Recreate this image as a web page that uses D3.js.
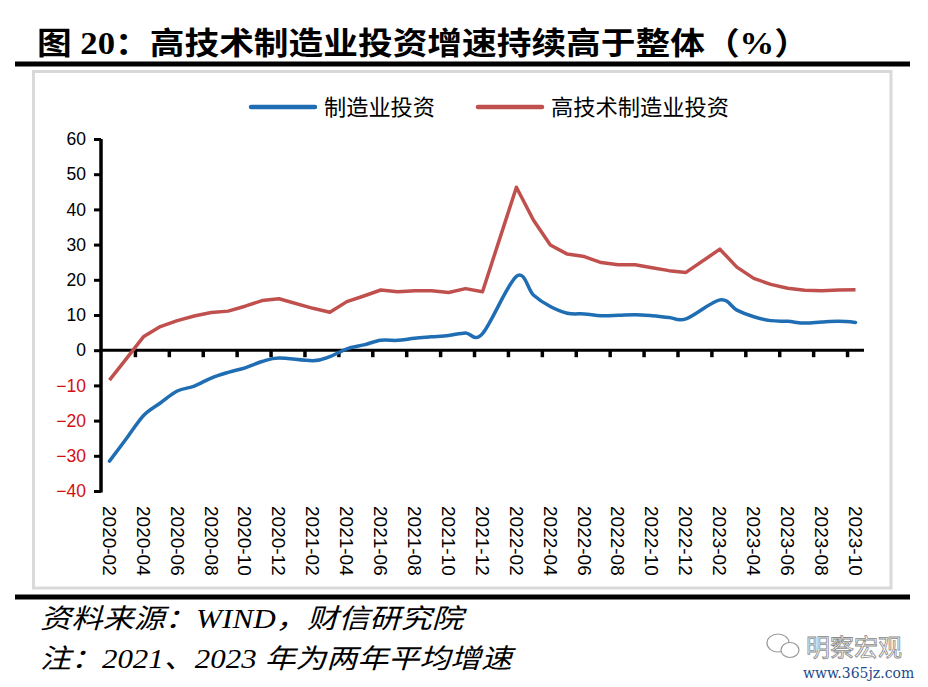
<!DOCTYPE html>
<html>
<head>
<meta charset="UTF-8">
<title>高技术制造业投资增速持续高于整体</title>
<script src="https://cdn.jsdelivr.net/npm/d3@7"></script>
<style>
  body { margin: 0; background: #fff; }
</style>
</head>
<body>
<svg id="chart" width="928" height="687"></svg>
<script>
// monthly data (no January: Jan-Feb are reported together)
var months = [
  "2020-02","2020-03","2020-04","2020-05","2020-06","2020-07","2020-08","2020-09","2020-10","2020-11","2020-12",
  "2021-02","2021-03","2021-04","2021-05","2021-06","2021-07","2021-08","2021-09","2021-10","2021-11","2021-12",
  "2022-02","2022-03","2022-04","2022-05","2022-06","2022-07","2022-08","2022-09","2022-10","2022-11","2022-12",
  "2023-02","2023-03","2023-04","2023-05","2023-06","2023-07","2023-08","2023-09","2023-10"
];
var manuf = [
  -31.5, -25.1, -18.6, -15.0, -11.6, -10.2, -7.9, -6.3, -5.0, -3.2, -2.2,
  -3.0, -1.8, 0.4, 1.5, 2.8, 2.8, 3.4, 3.8, 4.2, 4.9, 4.7,
  21.0, 15.7, 12.4, 10.5, 10.3, 9.8, 9.9, 10.1, 9.8, 9.3, 8.9,
  14.3, 11.4, 9.5, 8.4, 8.2, 7.7, 8.0, 8.2, 7.9
];
var hitech = [
  -8.5, -2.4, 3.8, 6.7, 8.4, 9.7, 10.7, 11.1, 12.5, 14.1, 14.6,
  11.9, 10.8, 13.8, 15.4, 17.1, 16.6, 16.9, 16.9, 16.4, 17.5, 16.6,
  46.3, 37.0, 29.9, 27.3, 26.6, 24.9, 24.3, 24.3, 23.4, 22.6, 22.1,
  28.7, 23.6, 20.4, 18.7, 17.6, 17.0, 16.9, 17.1, 17.2
];
var seriesNames = ["制造业投资", "高技术制造业投资"];
var seriesColors = ["#1f6db3", "#c0504d"];
var xTickLabels = [
  "2020-02","2020-04","2020-06","2020-08","2020-10","2020-12",
  "2021-02","2021-04","2021-06","2021-08","2021-10","2021-12",
  "2022-02","2022-04","2022-06","2022-08","2022-10","2022-12",
  "2023-02","2023-04","2023-06","2023-08","2023-10"
];
var yTicks = [60, 50, 40, 30, 20, 10, 0, -10, -20, -30, -40];

var svg = d3.select("#chart");
var cjk = "'Noto Sans CJK SC', 'Noto Sans', sans-serif";

// month index from "YYYY-MM", 2020-02 = 0
function monthIndex(s) {
  var p = s.split("-");
  return (+p[0] - 2020) * 12 + (+p[1] - 2);
}

// title and rules
svg.append("text")
    .attr("x", 37).attr("y", 54)
    .attr("font-family", "'Liberation Serif', " + cjk)
    .attr("font-weight", "bold")
    .attr("font-size", 31)
    .attr("textLength", 772)
    .attr("lengthAdjust", "spacingAndGlyphs")
    .text("图 20：高技术制造业投资增速持续高于整体（%）");
svg.append("rect").attr("x", 15).attr("y", 61.5).attr("width", 895).attr("height", 5).attr("fill", "#000");
svg.append("rect").attr("x", 15).attr("y", 594.5).attr("width", 895).attr("height", 5).attr("fill", "#000");

// chart frame
svg.append("rect")
    .attr("x", 33.5).attr("y", 71.5).attr("width", 857.5).attr("height", 516.5)
    .attr("fill", "#fff").attr("stroke", "#d9d9d9").attr("stroke-width", 3);

var x = d3.scaleLinear().domain([-0.5, 44.5]).range([101, 864]);
var y = d3.scaleLinear().domain([-40, 60]).range([491, 139]);

// y axis
var yAxis = svg.append("g")
    .attr("transform", "translate(101,0)")
    .call(d3.axisLeft(y).tickValues(yTicks).tickSize(7).tickPadding(6));
yAxis.select(".domain").attr("stroke-width", 3.5).attr("d", "M0," + y(60) + "V" + (y(-40) + 1.5));
yAxis.selectAll(".tick line").attr("stroke-width", 3);
yAxis.selectAll(".tick text")
    .attr("font-family", "'Liberation Sans', Arial, sans-serif")
    .attr("font-size", 17.5)
    .attr("dx", -2)
    .attr("fill", function(d) { return d < 0 ? "#d40f0f" : "#000"; });

// x axis on zero line: tick marks sit on month boundaries every 2 months
var boundaries = d3.range(1, 23).map(function(k) { return -0.5 + 2 * k; });
var xAxis = svg.append("g")
    .attr("transform", "translate(0," + y(0) + ")")
    .call(d3.axisBottom(x).tickValues(boundaries).tickSize(7).tickFormat(""));
xAxis.select(".domain").attr("stroke-width", 3).attr("d", "M" + x(-0.5) + ",0H" + x(44.5));
xAxis.selectAll(".tick line").attr("stroke-width", 3.5);

// rotated month labels at the bottom
svg.append("g").selectAll("text")
    .data(xTickLabels)
    .join("text")
    .attr("transform", function(d) { return "translate(" + x(monthIndex(d)) + ",506) rotate(90)"; })
    .attr("dy", "0.35em")
    .attr("font-family", "'Liberation Sans', Arial, sans-serif")
    .attr("font-size", 19)
    .attr("fill", "#000")
    .text(function(d) { return d; });

// lines
var pts = months.map(function(m, i) { return { i: monthIndex(m), a: manuf[i], b: hitech[i] }; });
svg.append("path")
    .datum(pts)
    .attr("fill", "none")
    .attr("stroke", seriesColors[1])
    .attr("stroke-width", 3.5)
    .attr("stroke-linejoin", "round")
    .attr("d", d3.line().x(function(d) { return x(d.i); }).y(function(d) { return y(d.b); }));
svg.append("path")
    .datum(pts)
    .attr("fill", "none")
    .attr("stroke", seriesColors[0])
    .attr("stroke-width", 3.5)
    .attr("stroke-linecap", "round")
    .attr("d", d3.line().curve(d3.curveCatmullRom.alpha(0))
        .x(function(d) { return x(d.i); }).y(function(d) { return y(d.a); }));

// legend
var legendX = [251, 478];
var legendTextLen = [111, 178];
var legend = svg.append("g").selectAll("g")
    .data(seriesNames)
    .join("g")
    .attr("transform", function(d, i) { return "translate(" + legendX[i] + ",107)"; });
legend.append("line")
    .attr("x1", 0).attr("x2", 64)
    .attr("stroke", function(d, i) { return seriesColors[i]; })
    .attr("stroke-width", 4.5)
    .attr("stroke-linecap", "round");
legend.append("text")
    .attr("x", 73).attr("dy", "0.36em")
    .attr("font-family", cjk)
    .attr("font-size", 22)
    .attr("textLength", function(d, i) { return legendTextLen[i]; })
    .attr("lengthAdjust", "spacingAndGlyphs")
    .text(function(d) { return d; });

// footer notes
var serifItalic = "'Liberation Serif', 'Times New Roman', " + cjk;
svg.append("text")
    .attr("x", 40).attr("y", 628)
    .attr("font-family", serifItalic)
    .attr("font-style", "italic")
    .attr("font-size", 27)
    .attr("textLength", 423)
    .attr("lengthAdjust", "spacingAndGlyphs")
    .text("资料来源：WIND，财信研究院");
svg.append("text")
    .attr("x", 40).attr("y", 668)
    .attr("font-family", serifItalic)
    .attr("font-style", "italic")
    .attr("font-size", 27)
    .attr("textLength", 472)
    .attr("lengthAdjust", "spacingAndGlyphs")
    .text("注：2021、2023 年为两年平均增速");

// watermark
var wm = svg.append("g").attr("fill", "none").attr("stroke", "#9a9a9a").attr("stroke-width", 1.2);
wm.append("ellipse").attr("cx", 778).attr("cy", 643).attr("rx", 11).attr("ry", 9);
wm.append("ellipse").attr("cx", 790).attr("cy", 650).attr("rx", 9).attr("ry", 7.5).attr("fill", "#fff");
svg.append("text")
    .attr("x", 806).attr("y", 656)
    .attr("font-family", cjk)
    .attr("font-size", 24)
    .attr("fill", "#fff")
    .attr("stroke", "#8a8a8a")
    .attr("stroke-width", 0.8)
    .text("明察宏观");
svg.append("text")
    .attr("x", 803).attr("y", 678)
    .attr("font-family", "'DejaVu Serif', serif")
    .attr("font-size", 14)
    .attr("fill", "#24498a")
    .text("www.365jz.com");
</script>
</body>
</html>
